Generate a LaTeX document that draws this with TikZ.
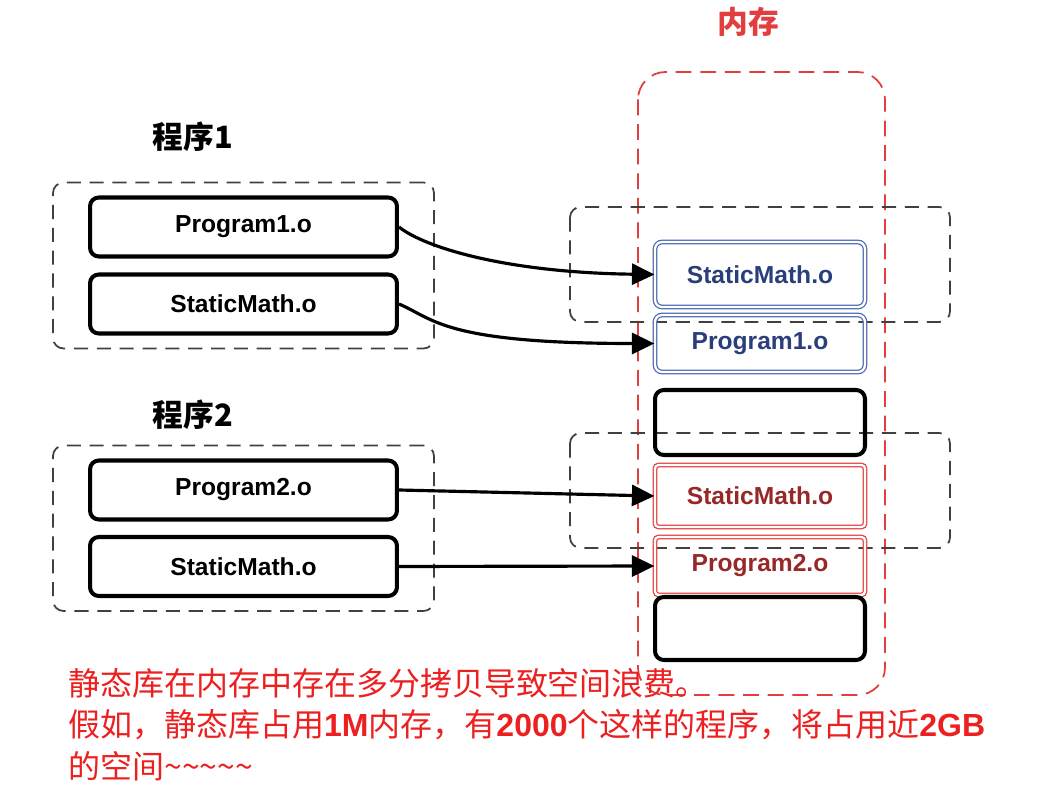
\documentclass[tikz,border=0pt]{standalone}
\usepackage{fontspec}
\setmainfont{Noto Sans CJK SC}
\newfontfamily\lat{Liberation Sans}
\usetikzlibrary{arrows.meta,positioning,calc,fit}
\definecolor{memred}{RGB}{226,62,62}
\definecolor{txtred}{RGB}{150,40,40}
\definecolor{memblue}{RGB}{72,102,178}
\definecolor{txtblue}{RGB}{42,62,122}
\definecolor{notered}{RGB}{236,32,32}

\begin{document}
\begin{tikzpicture}[x=0.02cm,y=-0.02cm,>={Triangle[length=0.45cm,width=0.42cm]},
  obj/.style={draw,line width=2.3pt,rounded corners=5pt,minimum width=6.14cm,minimum height=1.18cm,
    inner sep=0pt,font=\lat\fontsize{14}{16}\selectfont\bfseries},
  cell/.style={obj,minimum width=4.2cm,minimum height=1.2cm},
  bluecell/.style={cell,line width=0.7pt,draw=memblue,double=white,double distance=1.3pt,
    rounded corners=4pt,text=txtblue},
  redcell/.style={cell,line width=0.7pt,draw=memred,double=white,double distance=1.3pt,
    rounded corners=2pt,text=txtred},
  grp/.style={draw=black!75,line width=1pt,dash pattern=on 8pt off 5pt,rounded corners=6pt},
  head/.style={font=\fontsize{17.5}{20}\selectfont\bfseries},
  link/.style={->,line width=1.8pt}]
\useasboundingbox (0,0) rectangle (1062,810);

% memory column
\node[head,text=memred] (memtitle) at (748,22) {内存};
\draw[draw=memred,line width=1pt,dash pattern=on 9pt off 5pt,rounded corners=0.55cm]
  (638,72) rectangle (885,695);

% program 1
\node[head] (title1) at (193,137) {程序1};
\node[obj] (p1) at (243.5,227) {Program1.o};
\node[obj] (s1) at (243.5,304) {StaticMath.o};
\node[grp,fit=(p1)(s1),inner xsep=0.7cm,inner ysep=0.26cm] (grp1) {};

% program 2
\node[head] (title2) at (193,415) {程序2};
\node[obj] (p2) at (243.5,490) {Program2.o};
\node[obj] (s2) at (243.5,566.5) {StaticMath.o};
\node[grp,fit=(p2)(s2),inner xsep=0.7cm,inner ysep=0.26cm] (grp2) {};

% loaded copies
\draw[grp] (570,207) rectangle (950,322);
\draw[grp] (570,433) rectangle (950,548);
\node[bluecell,minimum height=1.3cm] (ms1) at (760,274.5) {StaticMath.o};
\node[bluecell,minimum height=1.14cm] (mp1) at (760,343.5) {Program1.o};
\node[cell,minimum height=1.3cm] (free1) at (760,422.5) {};
\node[redcell,minimum height=1.24cm] (ms2) at (760,496) {StaticMath.o};
\node[redcell,minimum height=1.16cm] (mp2) at (760,566) {Program2.o};
\node[cell,minimum height=1.26cm] (free2) at (760,628.5) {};

\draw[link] (p1.east) .. controls +(25,20) and +(-150,-2) .. (ms1.west);
\draw[link] (s1.east) .. controls +(35,15) and +(-210,0) .. (mp1.west);
\draw[link] (p2.east) -- (ms2.west);
\draw[link] (s2.east) -- (mp2.west);

% note
\node[anchor=north west,align=left,text=notered,inner sep=0pt,
  font=\fontsize{18.2}{23.5}\selectfont] (note) at (68,668)
  {静态库在内存中存在多分拷贝导致空间浪费。\\
   假如，静态库占用{\lat\bfseries 1M}内存，有{\lat\bfseries 2000}个这样的程序，将占用近{\lat\bfseries 2GB}\\
   的空间\textasciitilde\textasciitilde\textasciitilde\textasciitilde\textasciitilde};
\end{tikzpicture}
\end{document}
